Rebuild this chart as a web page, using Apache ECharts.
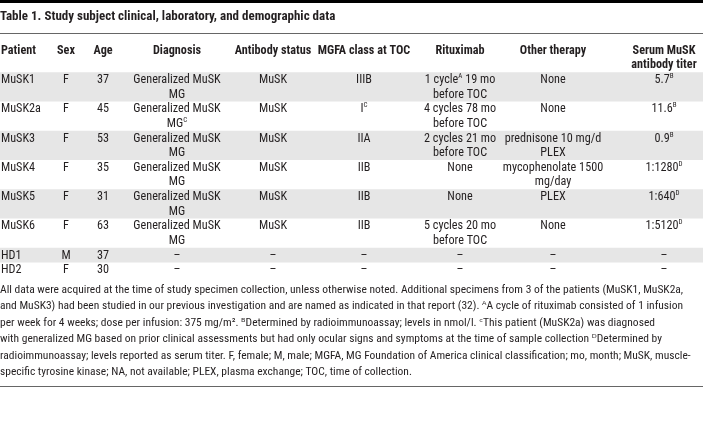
<!DOCTYPE html>
<html><head><meta charset="utf-8">
<script src="https://cdn.jsdelivr.net/npm/echarts@6/dist/echarts.min.js"></script>
<style>html,body{margin:0;padding:0;background:#fff}#c{width:703px;height:436px}</style>
</head><body><div id="c"></div>
<script>
// ---------- data ----------
const titleText = 'Table 1. Study subject clinical, laboratory, and demographic data';
const headers = ['Patient', 'Sex', 'Age', 'Diagnosis', 'Antibody status', 'MGFA class at TOC', 'Rituximab', 'Other therapy', 'Serum MuSK\nantibody titer'];
const patients = ['MuSK1', 'MuSK2a', 'MuSK3', 'MuSK4', 'MuSK5', 'MuSK6', 'HD1', 'HD2'];
const sex = ['F', 'F', 'F', 'F', 'F', 'F', 'M', 'F'];
const age = ['37', '45', '53', '35', '31', '63', '37', '30'];
const diagnosis = ['Generalized MuSK\nMG', 'Generalized MuSK\nMG{sup|C}', 'Generalized MuSK\nMG', 'Generalized MuSK\nMG', 'Generalized MuSK\nMG', 'Generalized MuSK\nMG', '–', '–'];
const antibodyStatus = ['MuSK', 'MuSK', 'MuSK', 'MuSK', 'MuSK', 'MuSK', '–', '–'];
const mgfaClass = ['IIIB', 'I{sup|C}', 'IIA', 'IIB', 'IIB', 'IIB', '–', '–'];
const rituximab = ['1 cycle{sup|A} 19 mo\nbefore TOC', '4 cycles 78 mo\nbefore TOC', '2 cycles 21 mo\nbefore TOC', 'None', 'None', '5 cycles 20 mo\nbefore TOC', '–', '–'];
const otherTherapy = ['None', 'None', 'prednisone 10 mg/d\nPLEX', 'mycophenolate 1500\nmg/day', 'PLEX', 'None', '–', '–'];
const serumTiter = ['5.7{sup|B}', '11.6{sup|B}', '0.9{sup|B}', '1:1280{sup|D}', '1:640{sup|D}', '1:5120{sup|D}', '–', '–'];
const footnotes = [
  'All data were acquired at the time of study specimen collection, unless otherwise noted. Additional specimens from 3 of the patients (MuSK1, MuSK2a,',
  'and MuSK3) had been studied in our previous investigation and are named as indicated in that report (32). ᴬA cycle of rituximab consisted of 1 infusion',
  'per week for 4 weeks; dose per infusion: 375 mg/m². ᴮDetermined by radioimmunoassay; levels in nmol/l. ᶜThis patient (MuSK2a) was diagnosed',
  'with generalized MG based on prior clinical assessments but had only ocular signs and symptoms at the time of sample collection ᴰDetermined by',
  'radioimmunoassay; levels reported as serum titer. F, female; M, male; MGFA, MG Foundation of America clinical classification; mo, month; MuSK, muscle-',
  'specific tyrosine kinase; NA, not available; PLEX, plasma exchange; TOC, time of collection.'
];

// ---------- layout / style ----------
const FONT = "'Roboto Condensed', 'DejaVu Sans Condensed', 'Liberation Sans', sans-serif";
const TEXT_COLOR = '#231f20';
const SHADE = '#e6e6e6';
const FS = 12.2;
const FOOT_FS = 11.5;
const FOOT_TOP = 290;
const FOOT_STEP = 16.5;
const UNIT = 14.625;                 // px per text line
const colX = [1, 66, 103, 177, 273, 364, 460, 553, 664];
const colAlign = ['left', 'center', 'center', 'center', 'center', 'center', 'center', 'center', 'center'];
const supStyle = { sup: { fontSize: 7, verticalAlign: 'top', lineHeight: 11, fill: TEXT_COLOR, fontFamily: FONT } };

const columns = [patients, sex, age, diagnosis, antibodyStatus, mgfaClass, rituximab, otherTherapy, serumTiter];
const rowLines = patients.map((_, i) => Math.max(...columns.map(c => String(c[i]).split('\n').length)));
let acc = 0;
const rowData = rowLines.map((n, i) => { const s = acc; acc += n; return [s, n, i]; });
const totalLines = acc;

function renderRow(params, api) {
  const start = api.value(0), n = api.value(1), idx = api.value(2);
  const top = api.coord([0, start])[1];
  const bottom = api.coord([0, start + n])[1];
  const left = api.coord([0, 0])[0];
  const right = api.coord([703, 0])[0];
  const children = [];
  const isHeader = idx < 0;
  if (!isHeader && idx % 2 === 0) {
    children.push({ type: 'rect', shape: { x: left, y: top, width: right - left, height: bottom - top }, style: { fill: SHADE } });
  }
  for (let c = 0; c < columns.length; c++) {
    const txt = isHeader ? headers[c] : String(columns[c][idx]);
    children.push({
      type: 'text',
      x: api.coord([colX[c], 0])[0],
      y: top + 0.5,
      style: {
        text: txt, fill: TEXT_COLOR, fontFamily: FONT, fontSize: FS,
        fontWeight: isHeader ? 'bold' : 'normal',
        align: colAlign[c], verticalAlign: 'top', lineHeight: UNIT,
        rich: supStyle
      }
    });
  }
  return { type: 'group', children };
}

const footGraphics = footnotes.map((t, i) => ({
  type: 'text', x: 0, y: FOOT_TOP + i * FOOT_STEP,
  style: { text: t, fill: TEXT_COLOR, fontFamily: FONT, fontSize: FOOT_FS,
           align: 'left', verticalAlign: 'middle' }
}));

const chart = echarts.init(document.getElementById('c'), null, { renderer: 'canvas' });
chart.setOption({
  animation: false,
  grid: { left: 0, right: 0, top: 43, height: UNIT * (totalLines + 2) },
  xAxis: { type: 'value', min: 0, max: 703, show: false },
  yAxis: { type: 'value', min: -2, max: totalLines, inverse: true, show: false },
  series: [
    { type: 'custom', renderItem: renderRow, data: [[-2, 2, -1]], silent: true },
    { type: 'custom', renderItem: renderRow, data: rowData, silent: true }
  ],
  graphic: [
    { type: 'rect', left: 0, top: 0, shape: { width: 703, height: 3 }, style: { fill: '#000' } },
    { type: 'text', left: 0, top: 10, style: { text: titleText, fill: TEXT_COLOR, font: 'bold 13px ' + FONT } },
    { type: 'rect', left: 0, top: 33, shape: { width: 703, height: 1 }, style: { fill: '#666' } },
    ...footGraphics,
    { type: 'rect', left: 0, top: 386, shape: { width: 703, height: 1 }, style: { fill: '#666' } }
  ]
});
</script>
</body></html>
